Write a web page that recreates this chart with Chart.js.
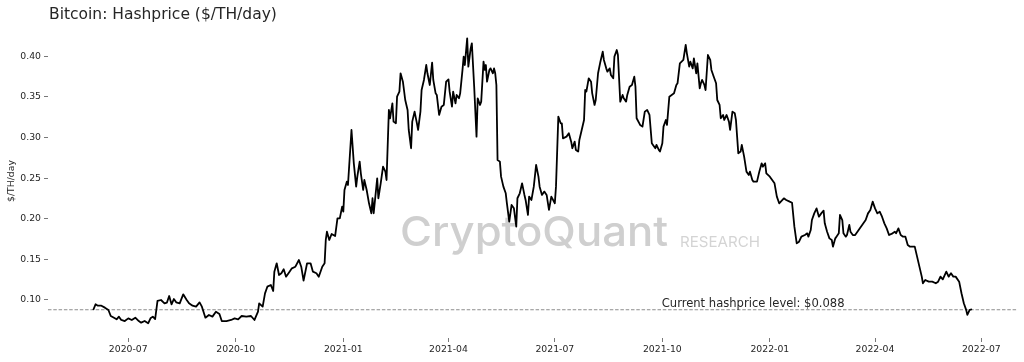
<!DOCTYPE html>
<html><head><meta charset="utf-8">
<script src="https://cdn.jsdelivr.net/npm/chart.js@4.4.1/dist/chart.umd.min.js"></script>
<style>html,body{margin:0;padding:0;background:#fff;}#wrap{width:1024px;height:362px;position:relative;}</style>
</head><body><div id="wrap"><canvas id="c" width="1024" height="362"></canvas></div>
<script>
const dates = [
'2020-06-01','2020-06-03','2020-06-05','2020-06-08','2020-06-11','2020-06-14','2020-06-16','2020-06-18','2020-06-21','2020-06-23','2020-06-25','2020-06-28',
'2020-07-01','2020-07-04','2020-07-07','2020-07-10','2020-07-12','2020-07-15','2020-07-18','2020-07-20','2020-07-22','2020-07-24','2020-07-26','2020-07-29',
'2020-08-01','2020-08-03','2020-08-05','2020-08-07','2020-08-09','2020-08-11','2020-08-14','2020-08-17','2020-08-20','2020-08-22','2020-08-25','2020-08-28','2020-08-31',
'2020-09-02','2020-09-05','2020-09-08','2020-09-11','2020-09-14','2020-09-17','2020-09-19','2020-09-23','2020-09-27','2020-09-30',
'2020-10-03','2020-10-06','2020-10-10','2020-10-14','2020-10-17','2020-10-20','2020-10-21','2020-10-24','2020-10-26','2020-10-28','2020-10-31',
'2020-11-02','2020-11-03','2020-11-05','2020-11-07','2020-11-09','2020-11-11','2020-11-13','2020-11-16','2020-11-18','2020-11-21','2020-11-24','2020-11-26','2020-11-28',
'2020-12-01','2020-12-04','2020-12-06','2020-12-09','2020-12-11','2020-12-14','2020-12-16','2020-12-17','2020-12-18','2020-12-20','2020-12-22','2020-12-25','2020-12-27','2020-12-29','2020-12-31',
'2021-01-01','2021-01-02','2021-01-04','2021-01-05','2021-01-08','2021-01-10','2021-01-12','2021-01-13','2021-01-15','2021-01-16','2021-01-18','2021-01-19','2021-01-21','2021-01-23','2021-01-25','2021-01-26','2021-01-27','2021-01-30','2021-01-31',
'2021-02-02','2021-02-04','2021-02-06','2021-02-07','2021-02-09','2021-02-10','2021-02-12','2021-02-13','2021-02-15','2021-02-16','2021-02-18','2021-02-19','2021-02-21','2021-02-23','2021-02-25','2021-02-26','2021-02-28',
'2021-03-01','2021-03-03','2021-03-05','2021-03-06','2021-03-08','2021-03-09','2021-03-11','2021-03-13','2021-03-14','2021-03-16','2021-03-18','2021-03-19','2021-03-21','2021-03-22','2021-03-24','2021-03-26','2021-03-28','2021-03-30',
'2021-04-01','2021-04-02','2021-04-04','2021-04-05','2021-04-07','2021-04-08','2021-04-10','2021-04-11','2021-04-13','2021-04-14','2021-04-15','2021-04-17','2021-04-18','2021-04-20','2021-04-21','2021-04-23','2021-04-25','2021-04-26','2021-04-28','2021-04-29',
'2021-05-01','2021-05-02','2021-05-03','2021-05-04','2021-05-06','2021-05-07','2021-05-09','2021-05-10','2021-05-11','2021-05-12','2021-05-13','2021-05-15','2021-05-16','2021-05-18','2021-05-20','2021-05-21','2021-05-23','2021-05-25','2021-05-27','2021-05-29','2021-05-30',
'2021-06-01','2021-06-03','2021-06-05','2021-06-06','2021-06-08','2021-06-09','2021-06-11','2021-06-13','2021-06-15','2021-06-17','2021-06-18','2021-06-20','2021-06-22','2021-06-24','2021-06-26','2021-06-28',
'2021-07-01','2021-07-02','2021-07-04','2021-07-06','2021-07-07','2021-07-08','2021-07-11','2021-07-13','2021-07-15','2021-07-16','2021-07-18','2021-07-19','2021-07-21','2021-07-22','2021-07-24','2021-07-26','2021-07-27','2021-07-28','2021-07-30',
'2021-08-01','2021-08-02','2021-08-04','2021-08-05','2021-08-07','2021-08-09','2021-08-11','2021-08-12','2021-08-14','2021-08-15','2021-08-17','2021-08-18','2021-08-20','2021-08-21','2021-08-23','2021-08-24','2021-08-26','2021-08-28','2021-08-29','2021-08-31',
'2021-09-01','2021-09-03','2021-09-05','2021-09-07','2021-09-08','2021-09-09','2021-09-12','2021-09-14','2021-09-16','2021-09-18','2021-09-20','2021-09-22','2021-09-23','2021-09-25','2021-09-26','2021-09-28','2021-09-29',
'2021-10-01','2021-10-02','2021-10-04','2021-10-05','2021-10-07','2021-10-09','2021-10-11','2021-10-13','2021-10-14','2021-10-16','2021-10-19','2021-10-21','2021-10-22','2021-10-24','2021-10-25','2021-10-27','2021-10-28','2021-10-30','2021-10-31',
'2021-11-02','2021-11-03','2021-11-04','2021-11-06','2021-11-07','2021-11-09','2021-11-11','2021-11-12','2021-11-14','2021-11-16','2021-11-17','2021-11-19','2021-11-20','2021-11-22','2021-11-23','2021-11-25','2021-11-27','2021-11-28','2021-11-30',
'2021-12-02','2021-12-03','2021-12-04','2021-12-05','2021-12-07','2021-12-08','2021-12-10','2021-12-12','2021-12-14','2021-12-15','2021-12-17','2021-12-18','2021-12-21','2021-12-23','2021-12-25','2021-12-26','2021-12-28','2021-12-29',
'2022-01-01','2022-01-03','2022-01-05','2022-01-07','2022-01-09','2022-01-13','2022-01-15','2022-01-18','2022-01-20','2022-01-22','2022-01-24','2022-01-26','2022-01-28','2022-01-31',
'2022-02-02','2022-02-03','2022-02-05','2022-02-06','2022-02-08','2022-02-10','2022-02-12','2022-02-14','2022-02-16','2022-02-17','2022-02-19','2022-02-21','2022-02-23','2022-02-24','2022-02-26','2022-02-27',
'2022-03-01','2022-03-02','2022-03-04','2022-03-05','2022-03-07','2022-03-08','2022-03-10','2022-03-11','2022-03-13','2022-03-15','2022-03-18','2022-03-21','2022-03-24','2022-03-26','2022-03-28','2022-03-30',
'2022-04-01','2022-04-03','2022-04-05','2022-04-07','2022-04-09','2022-04-11','2022-04-13','2022-04-16','2022-04-18','2022-04-19','2022-04-21','2022-04-23','2022-04-25','2022-04-27','2022-04-29',
'2022-05-01','2022-05-03','2022-05-05','2022-05-07','2022-05-09','2022-05-11','2022-05-12','2022-05-14','2022-05-17','2022-05-20','2022-05-23','2022-05-25','2022-05-27','2022-05-29',
'2022-06-01','2022-06-03','2022-06-05','2022-06-07','2022-06-09','2022-06-12','2022-06-14','2022-06-16','2022-06-18','2022-06-19','2022-06-21','2022-06-23'
];
const hashprice = [
0.0877,0.0947,0.0930,0.0930,0.0906,0.0877,0.0803,0.0787,0.0762,0.0795,0.0754,0.0741,
0.0774,0.0754,0.0782,0.0741,0.0721,0.0741,0.0713,0.0774,0.0795,0.0766,0.0988,0.1000,
0.0959,0.0967,0.1049,0.0947,0.1012,0.0971,0.0959,0.1070,0.1000,0.0959,0.0930,0.0918,0.0971,
0.0918,0.0782,0.0815,0.0795,0.0856,0.0828,0.0741,0.0741,0.0754,0.0774,
0.0762,0.0803,0.0795,0.0803,0.0754,0.0856,0.0959,0.0918,0.1082,0.1164,0.1185,
0.1111,0.1349,0.1452,0.1308,0.1329,0.1378,0.1287,0.1349,0.1390,0.1410,0.1493,0.1410,0.1238,
0.1452,0.1452,0.1349,0.1329,0.1287,0.1410,0.1452,0.1739,0.1841,0.1739,0.1813,0.1788,0.2006,0.2006,0.2149,
0.2088,0.2355,0.2457,0.2416,0.3094,0.2683,0.2396,0.2519,0.2704,0.2560,0.2355,0.2478,0.2355,0.2191,0.2068,0.2253,0.2068,0.2498,0.2253,
0.2437,0.2642,0.2581,0.2478,0.3340,0.3238,0.3422,0.3197,0.3176,0.3504,0.3566,0.3792,0.3689,0.3463,0.3340,0.3094,0.2869,
0.3197,0.3320,0.3176,0.3094,0.3320,0.3586,0.3710,0.3894,0.3792,0.3648,0.3923,0.3710,0.3545,0.3525,0.3279,0.3381,0.3402,0.3689,
0.3717,0.3566,0.3381,0.3566,0.3422,0.3525,0.3484,0.3545,0.3833,0.3997,0.3894,0.4222,0.3874,0.4099,0.4161,0.3627,0.3012,0.3484,0.3402,0.3443,
0.3935,0.3833,0.3894,0.3689,0.3833,0.3853,0.3792,0.3853,0.3792,0.3648,0.2724,0.2704,0.2519,0.2396,0.2314,0.2191,0.1966,0.2170,0.2129,0.1904,0.2253,
0.2314,0.2437,0.2294,0.2232,0.2047,0.2273,0.2232,0.2396,0.2663,0.2519,0.2396,0.2294,0.2335,0.2294,0.2109,0.2273,
0.2191,0.2396,0.3258,0.3176,0.3176,0.2991,0.3012,0.3053,0.2950,0.2869,0.2950,0.2848,0.2828,0.2971,0.3094,0.3217,0.3586,0.3566,0.3730,
0.3689,0.3545,0.3402,0.3463,0.3792,0.3935,0.4058,0.3956,0.3853,0.3812,0.3853,0.3771,0.3730,0.3997,0.4079,0.4017,0.3443,0.3525,0.3484,0.3443,
0.3525,0.3627,0.3648,0.3750,0.3627,0.3238,0.3156,0.3135,0.3320,0.3340,0.3279,0.2930,0.2910,0.2869,0.2910,0.2848,0.2828,
0.2930,0.3135,0.3217,0.3156,0.3504,0.3525,0.3545,0.3648,0.3669,0.3915,0.3956,0.4141,0.4038,0.3874,0.3935,0.3853,0.3976,0.3792,0.3915,
0.3607,0.3669,0.3710,0.3648,0.3586,0.4017,0.3956,0.3833,0.3750,0.3669,0.3463,0.3402,0.3238,0.3279,0.3217,0.3279,0.3197,0.3094,0.3320,
0.3299,0.3217,0.3012,0.2807,0.2828,0.2910,0.2766,0.2581,0.2540,0.2581,0.2478,0.2458,0.2458,0.2581,0.2683,0.2642,0.2683,0.2560,
0.2519,0.2478,0.2437,0.2273,0.2191,0.2252,0.2232,0.2211,0.2198,0.1903,0.1698,0.1718,0.1780,0.1800,
0.1821,0.1780,0.1862,0.1985,0.2067,0.2128,0.2026,0.2067,0.2100,0.1944,0.1841,0.1759,0.1739,0.1657,0.1759,0.1780,
0.1821,0.2047,0.1985,0.1821,0.1780,0.1800,0.1924,0.1841,0.1800,0.1800,0.1862,0.1924,0.1985,0.2067,0.2108,0.2211,
0.2128,0.2067,0.2088,0.2026,0.1944,0.1882,0.1800,0.1821,0.1841,0.1821,0.1882,0.1800,0.1780,0.1780,0.1677,
0.1657,0.1657,0.1657,0.1534,0.1411,0.1288,0.1206,0.1247,0.1226,0.1226,0.1206,0.1226,0.1288,0.1255,
0.1349,0.1288,0.1329,0.1288,0.1288,0.1226,0.1083,0.0960,0.0878,0.0817,0.0878,0.0886
];
const currentLevel = 0.088;
const xTickLabels = ['2020-07','2020-10','2021-01','2021-04','2021-07','2021-10','2022-01','2022-04','2022-07'];
const yTicks = [0.10,0.15,0.20,0.25,0.30,0.35,0.40];
const titleText = 'Bitcoin: Hashprice ($/TH/day)';
const yTitleText = '$/TH/day';
const noteText = 'Current hashprice level: $0.088';
const noteDate = '2021-10-01';
const wmMain = 'CryptoQuant';
const wmSub = 'RESEARCH';

const DAY = 864e5;
const toDay = s => Date.parse(s) / DAY;
const ref = toDay('2020-07-01');
const xMin = ref - 68.7, xMax = ref + 760.5;
const points = dates.map((d, i) => ({x: toDay(d), y: hashprice[i]}));
const tickDays = xTickLabels.map(m => toDay(m + '-01'));
const labelByDay = {};
tickDays.forEach((d, i) => { labelByDay[d] = xTickLabels[i]; });

function fitFont(ctx, text, family, weight, width) {
  ctx.font = weight + ' 100px ' + family;
  const w = ctx.measureText(text).width;
  return weight + ' ' + (100 * width / w).toFixed(2) + 'px ' + family;
}
function drawStretched(ctx, text, font, x, y, width) {
  ctx.save();
  ctx.font = font;
  const w = ctx.measureText(text).width;
  ctx.translate(x, y);
  ctx.scale(width / w, 1);
  ctx.fillText(text, 0, 0);
  ctx.restore();
}

const textPlugin = {
  id: 'texts',
  beforeDatasetsDraw(chart) {
    const ctx = chart.ctx;
    ctx.save();
    ctx.textBaseline = 'alphabetic';
    ctx.textAlign = 'left';
    ctx.fillStyle = '#cfcfcf';
    drawStretched(ctx, wmMain, '500 41px "Inter", "Roboto", sans-serif', 400, 245.5, 268);
    ctx.fillStyle = '#d4d4d4';
    drawStretched(ctx, wmSub, '400 14.5px "Inter", "Roboto", sans-serif', 680, 246.5, 80);
    ctx.restore();
  },
  afterDraw(chart) {
    const ctx = chart.ctx;
    const xs = chart.scales.x, ys = chart.scales.y;
    ctx.save();
    ctx.fillStyle = '#262626';
    ctx.textBaseline = 'alphabetic';
    ctx.textAlign = 'left';
    ctx.font = fitFont(ctx, titleText, '"DejaVu Sans", sans-serif', 'normal', 228);
    ctx.fillText(titleText, 49, 19);
    ctx.font = fitFont(ctx, noteText, '"DejaVu Sans", sans-serif', 'normal', 183);
    ctx.fillText(noteText, xs.getPixelForValue(toDay(noteDate)) - 0.6, ys.getPixelForValue(currentLevel) - 3.2);
    ctx.translate(11.7, (chart.chartArea.top + chart.chartArea.bottom) / 2);
    ctx.rotate(-Math.PI / 2);
    ctx.textAlign = 'center';
    ctx.textBaseline = 'middle';
    ctx.font = 'normal 9.3px "DejaVu Sans", sans-serif';
    ctx.fillText(yTitleText, 0, 0);
    ctx.restore();
  }
};

const tickFont = {family: '"DejaVu Sans", sans-serif', size: 9.3};
new Chart(document.getElementById('c'), {
  type: 'line',
  data: {
    datasets: [
      {data: points, borderColor: '#000', borderWidth: 1.8, pointRadius: 0, tension: 0, borderJoinStyle: 'round', fill: false},
      {data: [{x: xMin, y: currentLevel}, {x: xMax, y: currentLevel}], borderColor: '#808080', borderWidth: 0.9, borderDash: [3.5, 1.8], pointRadius: 0, tension: 0, fill: false}
    ]
  },
  options: {
    responsive: false, animation: false, devicePixelRatio: 1,
    layout: {padding: {left: 0, right: 7, top: 24, bottom: 0}},
    plugins: {legend: {display: false}, tooltip: {enabled: false}, title: {display: false}},
    scales: {
      x: {
        type: 'linear', min: xMin, max: xMax,
        border: {display: false},
        grid: {display: true, drawOnChartArea: false, drawTicks: true, tickLength: 4, tickColor: '#555', tickWidth: 0.8},
        ticks: {font: tickFont, color: '#262626', padding: 2, maxRotation: 0, autoSkip: false, callback: v => labelByDay[v] || ''},
        afterBuildTicks: s => { s.ticks = tickDays.map(v => ({value: v})); },
        afterFit: s => { s.height = 24; }
      },
      y: {
        min: 0.0532, max: 0.4399,
        border: {display: false},
        grid: {display: true, drawOnChartArea: false, drawTicks: true, tickLength: 4, tickColor: '#555', tickWidth: 0.8},
        ticks: {font: tickFont, color: '#262626', padding: 3, callback: v => v.toFixed(2)},
        afterBuildTicks: s => { s.ticks = yTicks.map(v => ({value: v})); },
        afterFit: s => { s.width = 48; }
      }
    }
  },
  plugins: [textPlugin]
});
</script></body></html>
